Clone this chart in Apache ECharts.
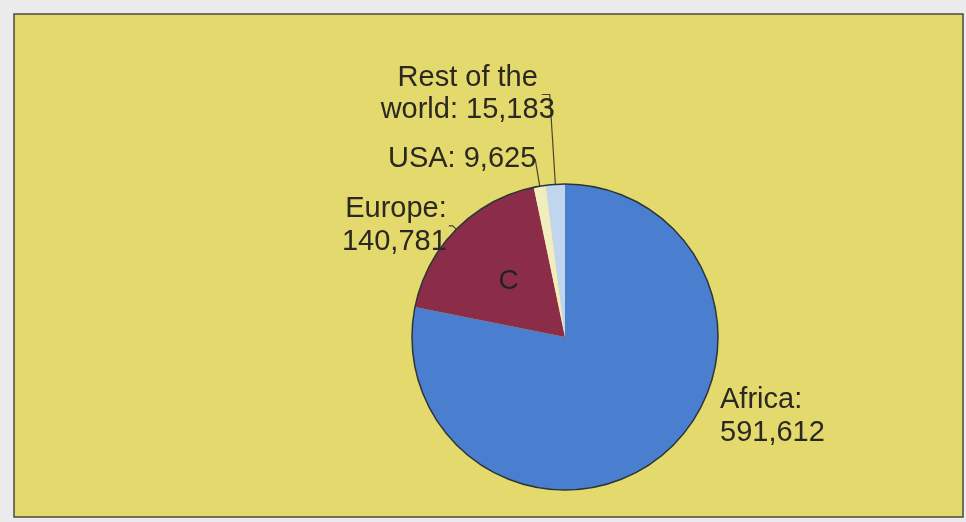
<!DOCTYPE html>
<html>
<head>
<meta charset="utf-8">
<script src="https://cdn.jsdelivr.net/npm/echarts@6/dist/echarts.min.js"></script>
<style>
  html, body { margin: 0; padding: 0; background: #ebebee; }
  #chart { width: 966px; height: 522px; }
</style>
</head>
<body>
<div id="chart"></div>
<script>
// Region names and counts, drawn clockwise from twelve o'clock
const regions = ['Africa', 'Europe', 'USA', 'Rest of the\nworld'];
const counts = [591612, 140781, 9625, 15183];
// Text placed between a region name and its count
const valueSeparators = [':\n', ':\n', ': ', ': '];
// Letter tags printed inside wedges
const wedgeTags = ['', 'C', '', ''];

const sliceColors = ['#4a7fcf', '#8b2c49', '#f2edbe', '#bfd6ee'];
const textColor = '#2a2820';
const fontFamily = '"Liberation Sans", Arial, sans-serif';
const fontSize = 29;
const lineHeight = 33;
const center = [565, 337];
const radius = 153;

function withCommas(v) {
  return String(v).replace(/\B(?=(\d{3})+(?!\d))/g, ',');
}

function labelText(i) {
  return regions[i] + valueSeparators[i] + withCommas(counts[i]);
}

// Leader line and label offsets for each wedge
const leaderStyles = [
  { labelLine: { show: false }, label: {} },
  { labelLine: { length: 5, length2: 4 }, label: { distanceToLabelLine: 2 } },
  { labelLine: { length: 27, length2: 1 }, label: { distanceToLabelLine: -2 } },
  { labelLine: { length: 90, length2: 8 }, label: { distanceToLabelLine: -15 } }
];

const mainData = regions.map((name, i) => ({
  name: name,
  value: counts[i],
  itemStyle: { color: sliceColors[i] },
  labelLine: leaderStyles[i].labelLine,
  label: leaderStyles[i].label
}));

const tagData = regions.map((name, i) => ({ name: name, value: counts[i] }));
const total = counts.reduce((a, b) => a + b, 0);

const chart = echarts.init(document.getElementById('chart'), null, { renderer: 'canvas' });

chart.setOption({
  animation: false,
  backgroundColor: '#ebebee',
  graphic: [{
    type: 'rect',
    z: -10,
    shape: { x: 14, y: 14, width: 949, height: 503 },
    style: { fill: '#e3d96c', stroke: '#4b4a46', lineWidth: 1.5 }
  }],
  series: [
    {
      type: 'pie',
      center: center,
      radius: radius,
      startAngle: 90,
      clockwise: true,
      avoidLabelOverlap: false,
      silent: true,
      z: 2,
      itemStyle: { borderWidth: 0 },
      label: {
        show: true,
        position: 'outside',
        color: textColor,
        fontFamily: fontFamily,
        fontSize: fontSize,
        lineHeight: lineHeight,
        formatter: function (p) {
          const t = labelText(p.dataIndex);
          if (p.dataIndex === 3) {
            return t.split('\n').map(l => '{c|' + l + '}').join('\n');
          }
          return t;
        },
        rich: {
          c: {
            width: 178,
            align: 'center',
            color: textColor,
            fontFamily: fontFamily,
            fontSize: fontSize,
            lineHeight: 32
          }
        }
      },
      labelLine: {
        show: true,
        lineStyle: { color: '#4d4234', width: 1.2 }
      },
      labelLayout: function (p) {
        if (p.dataIndex === 0) {
          return { x: 720, y: 416, align: 'left', verticalAlign: 'middle' };
        }
      },
      data: mainData
    },
    {
      type: 'pie',
      center: center,
      radius: radius,
      startAngle: 90,
      clockwise: true,
      silent: true,
      z: 3,
      itemStyle: { color: 'rgba(0,0,0,0)', borderWidth: 0 },
      label: {
        show: true,
        position: 'inside',
        color: '#222222',
        fontFamily: fontFamily,
        fontSize: 28,
        formatter: p => wedgeTags[p.dataIndex]
      },
      labelLine: { show: false },
      data: tagData
    },
    {
      type: 'pie',
      center: center,
      radius: radius,
      silent: true,
      z: 4,
      itemStyle: { color: 'rgba(0,0,0,0)', borderColor: '#2c3438', borderWidth: 1.5 },
      label: { show: false },
      labelLine: { show: false },
      data: [total]
    }
  ]
});
</script>
</body>
</html>
